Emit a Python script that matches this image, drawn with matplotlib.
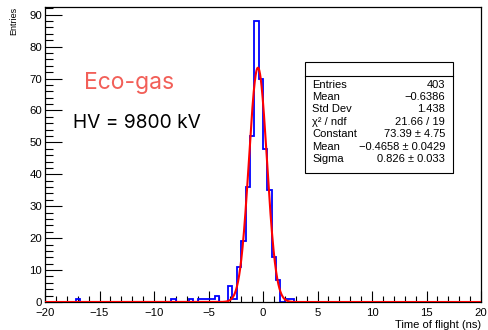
import numpy as np
import matplotlib
matplotlib.use("Agg")
import matplotlib.pyplot as plt
from matplotlib.patches import Rectangle
from matplotlib.ticker import MultipleLocator

# histogram: 100 bins of 0.4 ns between -20 and 20
bin_edges = np.linspace(-20, 20, 101)
filled_bins = {
    -17.2: 1, -8.4: 1, -6.8: 1,
    -6.0: 1, -5.6: 1, -5.2: 1, -4.8: 1, -4.4: 2,
    -3.2: 5, -2.8: 1, -2.4: 11, -2.0: 19, -1.6: 36, -1.2: 52,
    -0.8: 88, -0.4: 70, 0.0: 48, 0.4: 35, 0.8: 14, 1.2: 7,
    2.0: 1, 2.4: 1,
}
counts = np.zeros(100)
for lo, n in filled_bins.items():
    counts[int(round((lo + 20) / 0.4))] = n

# gaus fit parameters (from the stats box)
fit_const = 73.39
fit_mean = -0.4658
fit_sigma = 0.826

stat_names = ["Entries", "Mean", "Std Dev", "\u03c7\u00b2 / ndf", "Constant", "Mean", "Sigma"]
stat_values = ["403", "\u22120.6386", "1.438", "21.66 / 19", "73.39 \u00b1 4.75",
               "\u22120.4658 \u00b1 0.0429", "0.826 \u00b1 0.033"]

plt.rcParams['font.family'] = ['Liberation Sans', 'DejaVu Sans']

W, H = 488, 330
fig = plt.figure(figsize=(W / 100, H / 100), dpi=100)
ax = fig.add_axes([45 / W, 1 - 302 / H, (481 - 45) / W, (302 - 7) / H])

ax.stairs(counts, bin_edges, color="blue", linewidth=1.3, zorder=2)
xf = np.linspace(-20, 20, 2000)
ax.plot(xf, fit_const * np.exp(-0.5 * ((xf - fit_mean) / fit_sigma) ** 2),
        color="red", linewidth=1.5, zorder=3)

ax.set_xlim(-20, 20)
ax.set_ylim(0, 92.4)
ax.xaxis.set_major_locator(MultipleLocator(5))
ax.xaxis.set_minor_locator(MultipleLocator(1))
ax.yaxis.set_major_locator(MultipleLocator(10))
ax.yaxis.set_minor_locator(MultipleLocator(2))
ax.tick_params(axis="both", which="both", direction="in", labelsize=8.2, width=0.8)
ax.tick_params(axis="x", which="major", length=8, pad=4.5)
ax.tick_params(axis="x", which="minor", length=4)
ax.tick_params(axis="y", which="major", length=12, pad=2)
ax.tick_params(axis="y", which="minor", length=6)
ax.set_yticks([0, 10, 20, 30, 40, 50, 60, 70, 80, 90])
for s in ax.spines.values():
    s.set_linewidth(0.9)

fig.text(481 / W, 1 - 324.5 / H, "Time of flight (ns)", ha="right", va="center", fontsize=8)
fig.text(14 / W, 1 - 7 / H, "Entries", ha="center", va="top", rotation=90, fontsize=6.5)

fig.text(84 / W, 1 - 88.5 / H, "Eco-gas", color="#f25f58", fontsize=16.5,
         family=["Inter", "DejaVu Sans"], ha="left", va="baseline")
fig.text(73 / W, 1 - 127.5 / H, "HV = 9800 kV", color="black", fontsize=13.8,
         family=["Inter", "DejaVu Sans"], ha="left", va="baseline")

# stats box
bx0, bx1, by0, by1 = 305, 453, 62, 173
fig.patches.append(Rectangle((bx0 / W + 1.2 / W, 1 - (by1 + 1.2) / H), (bx1 - bx0) / W,
                             (by1 - by0) / H, transform=fig.transFigure,
                             facecolor="#333333", edgecolor="none", zorder=4))
fig.patches.append(Rectangle((bx0 / W, 1 - by1 / H), (bx1 - bx0) / W, (by1 - by0) / H,
                             transform=fig.transFigure, facecolor="white",
                             edgecolor="black", linewidth=0.8, zorder=5))
fig.add_artist(plt.Line2D([bx0 / W, bx1 / W], [1 - 76 / H, 1 - 76 / H],
                          transform=fig.transFigure, color="black", linewidth=0.8, zorder=6))
for i, (name, val) in enumerate(zip(stat_names, stat_values)):
    yy = 1 - (84.5 + i * 12.4) / H
    fig.text(312 / W, yy, name, ha="left", va="center", fontsize=8, zorder=7)
    fig.text(445 / W, yy, val, ha="right", va="center", fontsize=8, zorder=7)

fig.savefig("out.png", dpi=100)
